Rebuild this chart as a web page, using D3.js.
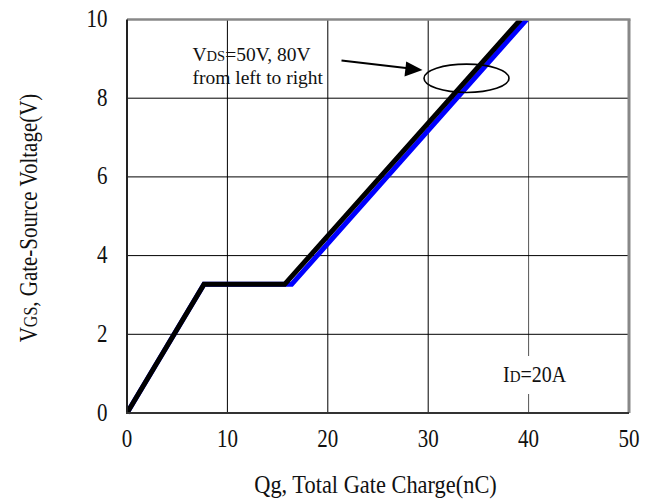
<!DOCTYPE html>
<html>
<head>
<meta charset="utf-8">
<script src="https://cdn.jsdelivr.net/npm/d3@7"></script>
<style>
  html, body { margin: 0; padding: 0; background: #fff; }
  svg { display: block; }
</style>
</head>
<body>
<svg id="chart" width="655" height="499" font-family="'Liberation Serif', 'DejaVu Serif', serif"></svg>
<script>
// ---- data ----
const xTicks = [0, 10, 20, 30, 40, 50];
const yTicks = [0, 2, 4, 6, 8, 10];
const qg50 = [0, 7.67, 15.7, 39.2];
const vgs50 = [0, 3.27, 3.27, 10];
const qg80 = [0, 7.67, 16.4, 39.8];
const vgs80 = [0, 3.27, 3.27, 10];
const xTitle = "Qg, Total Gate Charge(nC)";
const idLabel = ["I", "D", "=20A"];

// ---- layout ----
const W = 655, H = 499;
const L = 127, R = 629, T = 19.5, B = 413;
const STRETCH = 1.15;
const FONT = "Liberation Serif";

const svg = d3.select("#chart");
const x = d3.scaleLinear().domain([0, 50]).range([L, R]);
const y = d3.scaleLinear().domain([0, 10]).range([B, T]);

// gridlines
const grid = svg.append("g");
grid.selectAll("line.vx").data(xTicks.filter(d => d > 0 && d < 50)).join("line")
  .attr("x1", d => x(d)).attr("x2", d => x(d)).attr("y1", T).attr("y2", B)
  .attr("stroke", d => d === 40 ? "#555" : "#000").attr("stroke-width", 1);
grid.selectAll("line.hy").data(yTicks.filter(d => d > 0 && d < 10)).join("line")
  .attr("x1", L).attr("x2", R).attr("y1", d => y(d)).attr("y2", d => y(d))
  .attr("stroke", "#000").attr("stroke-width", 1);

// white patch behind ID label
svg.append("rect").attr("x", 500).attr("y", 356).attr("width", 70).attr("height", 38).attr("fill", "#fff");

// curves
const line = d3.line().x(d => x(d[0])).y(d => y(d[1]));
svg.append("clipPath").attr("id", "clip").append("rect")
  .attr("x", L).attr("y", T).attr("width", R - L).attr("height", B - T + 3);
svg.append("path").datum(qg80.map((q, i) => [q, vgs80[i]]))
  .attr("d", line).attr("fill", "none").attr("stroke", "#0000ff")
  .attr("stroke-width", 5).attr("stroke-linejoin", "miter").attr("clip-path", "url(#clip)");
svg.append("path").datum(qg50.map((q, i) => [q, vgs50[i]]))
  .attr("d", line).attr("fill", "none").attr("stroke", "#000")
  .attr("stroke-width", 5).attr("stroke-linejoin", "miter").attr("clip-path", "url(#clip)");

// frame
svg.append("line").attr("x1", L).attr("x2", R + 1.5).attr("y1", T).attr("y2", T)
  .attr("stroke", "#888").attr("stroke-width", 2.5);
svg.append("line").attr("x1", R).attr("x2", R).attr("y1", T).attr("y2", B)
  .attr("stroke", "#888").attr("stroke-width", 3);
svg.append("line").attr("x1", L).attr("x2", L).attr("y1", T).attr("y2", B + 1)
  .attr("stroke", "#222").attr("stroke-width", 2);
svg.append("line").attr("x1", L - 1).attr("x2", R).attr("y1", B).attr("y2", B)
  .attr("stroke", "#333").attr("stroke-width", 2);

function stext(g, px, py, s, size, anchor, rot, stretch) {
  const k = stretch === undefined ? STRETCH : stretch;
  const t = g.append("g")
    .attr("transform", `translate(${px},${py})` + (rot ? ` rotate(${rot})` : "") + ` scale(1,${k})`)
    .append("text").attr("font-family", FONT).attr("fill", "#111")
    .attr("font-size", size).attr("text-anchor", anchor || "start");
  if (typeof s === "string") t.text(s);
  return t;
}

// tick labels
const tg = svg.append("g");
yTicks.forEach(d => stext(tg, 107.5, y(d) + 7.5, String(d), 21, "end"));
xTicks.forEach(d => stext(tg, x(d), 447, String(d), 21, "middle"));

// axis titles
stext(svg, 375.5, 493, xTitle, 22.4, "middle");
const yt = stext(svg, 37, 218, null, 21, "middle", -90);
yt.append("tspan").text("V");
yt.append("tspan").attr("font-size", 16).text("GS");
yt.append("tspan").text(", Gate-Source Voltage(V)");

// annotations
const a1 = stext(svg, 192.5, 61, null, 19.5, "start", 0, 1);
a1.append("tspan").text("V");
a1.append("tspan").attr("font-size", 14.5).text("DS");
a1.append("tspan").text("=50V, 80V");
stext(svg, 192.5, 83.5, "from left to right", 19.5, "start", 0, 1);

const a2 = stext(svg, 503, 382, null, 20, "start");
a2.append("tspan").text(idLabel[0]);
a2.append("tspan").attr("font-size", 15).text(idLabel[1]);
a2.append("tspan").text(idLabel[2]);

// arrow
svg.append("line").attr("x1", 341.5).attr("y1", 60.5).attr("x2", 408).attr("y2", 68.3)
  .attr("stroke", "#000").attr("stroke-width", 2);
svg.append("path").attr("d", "M422.5,70 L406.2,61.5 L404.5,76.5 Z").attr("fill", "#000");

// ellipse
svg.append("ellipse").attr("cx", 466.5).attr("cy", 78.3).attr("rx", 42.5).attr("ry", 14.2)
  .attr("fill", "none").attr("stroke", "#000").attr("stroke-width", 1.6);
</script>
</body>
</html>
